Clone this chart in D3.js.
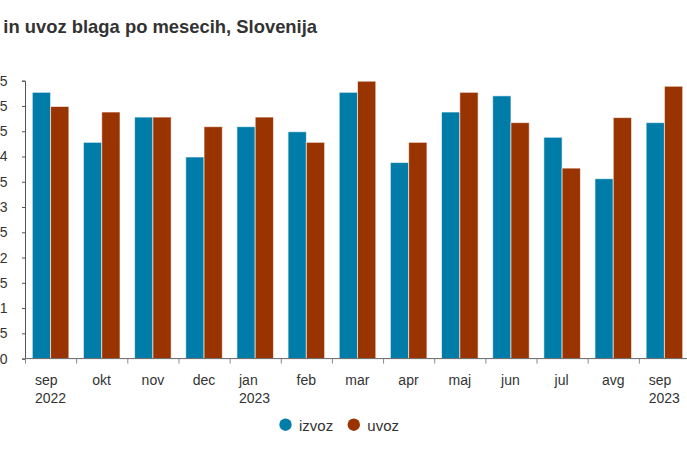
<html>
<head>
<meta charset="utf-8">
<title>Izvoz in uvoz blaga</title>
<script src="https://d3js.org/d3.v7.min.js"></script>
<style>
body { margin: 0; background: white; }
text { font-family: "Liberation Sans", Arial, sans-serif; fill: #333; }
</style>
</head>
<body>
<svg id="chart" width="687" height="458"></svg>
<script>
// months (second line = year)
var months = ["sep|2022", "okt", "nov", "dec", "jan|2023", "feb", "mar", "apr", "maj", "jun", "jul", "avg", "sep|2023"];
var izvoz = [5.27, 4.28, 4.78, 3.99, 4.59, 4.49, 5.27, 3.88, 4.88, 5.20, 4.38, 3.56, 4.67];
var uvoz  = [4.99, 4.88, 4.78, 4.59, 4.78, 4.28, 5.49, 4.28, 5.27, 4.67, 3.77, 4.77, 5.39];
var yTicks = [0, 0.5, 1, 1.5, 2, 2.5, 3, 3.5, 4, 4.5, 5, 5.5];
var seriesNames = ["izvoz", "uvoz"];
var colors = ["#007ca8", "#993300"];

var svg = d3.select("#chart");

var plotLeft = 25, plotRight = 690, plotTop = 80.7, plotBottom = 358.6;

var x = d3.scaleBand().domain(months).range([plotLeft, plotRight]);
var xi = d3.scaleBand().domain(seriesNames).range([7.3, x.bandwidth() - 7.3]);
var y = d3.scaleLinear().domain([0, 5.5]).range([plotBottom, plotTop]);

// title, its first word falls off the left edge
var title = svg.append("text")
    .attr("y", 33.3)
    .style("font-size", "18.4px")
    .style("font-weight", "bold");
var tmp = svg.append("text").style("font-size", "18.4px").style("font-weight", "bold")
    .attr("xml:space", "preserve").text("Izvoz ");
var cut = tmp.node().getComputedTextLength();
tmp.remove();
title.attr("x", 3.3 - cut).text("Izvoz in uvoz blaga po mesecih, Slovenija");

// bars
var rows = months.map(function (m, i) { return { m: m, vals: [izvoz[i], uvoz[i]] }; });
svg.append("g").selectAll("g")
  .data(rows)
  .enter().append("g")
    .attr("transform", function (d) { return "translate(" + x(d.m) + ",0)"; })
  .selectAll("rect")
  .data(function (d) { return d.vals.map(function (v, k) { return { s: seriesNames[k], v: v, k: k }; }); })
  .enter().append("rect")
    .attr("x", function (d) { return xi(d.s); })
    .attr("width", xi.bandwidth())
    .attr("y", function (d) { return y(d.v); })
    .attr("height", function (d) { return y(0) - y(d.v); })
    .attr("fill", function (d) { return colors[d.k]; })
    .attr("stroke", "#fff")
    .attr("stroke-opacity", 0.6)
    .attr("stroke-width", 1);

// y axis
var yAxis = svg.append("g")
    .attr("transform", "translate(" + plotLeft + ",0)")
    .call(d3.axisLeft(y).tickValues(yTicks).tickSize(3).tickPadding(14.5)
      .tickFormat(function (d) { return String(d).replace(".", ","); }));
yAxis.select(".domain").attr("stroke", "#555");
yAxis.selectAll(".tick line").attr("stroke", "#555");
yAxis.selectAll("text").style("font-size", "14px").attr("fill", "#333");

// x axis, ticks at the band edges
var xEdge = d3.scaleLinear().domain([0, months.length]).range([plotLeft, plotRight]);
var xAxis = svg.append("g")
    .attr("transform", "translate(0," + plotBottom + ")")
    .call(d3.axisBottom(xEdge).tickValues(d3.range(0, months.length + 1)).tickSize(5).tickFormat(""));
xAxis.select(".domain").attr("stroke", "#666").attr("d", "M" + plotLeft + ",0H" + plotRight);
xAxis.selectAll(".tick line").attr("stroke", "#888");

// month labels, lines left aligned, block centred on the band
var labs = svg.append("g").selectAll("text")
  .data(months)
  .enter().append("text")
    .style("font-size", "14px")
    .attr("y", 385);
labs.each(function (m) {
  var t = d3.select(this);
  var parts = m.split("|");
  parts.forEach(function (p, i) {
    t.append("tspan").attr("x", 0).attr("dy", i === 0 ? 0 : 17.7).text(p);
  });
  var w = this.getBBox().width;
  var x0 = x(m) + x.bandwidth() / 2 - w / 2;
  t.selectAll("tspan").attr("x", x0);
});

// legend
var legend = svg.append("g");
var legX = [285.5, 353.8];
seriesNames.forEach(function (s, i) {
  legend.append("circle").attr("cx", legX[i]).attr("cy", 424.7).attr("r", 6.2).attr("fill", colors[i]);
  legend.append("text").attr("x", legX[i] + 13.5).attr("y", 430.5)
    .style("font-size", "15px").text(s);
});
</script>
</body>
</html>
